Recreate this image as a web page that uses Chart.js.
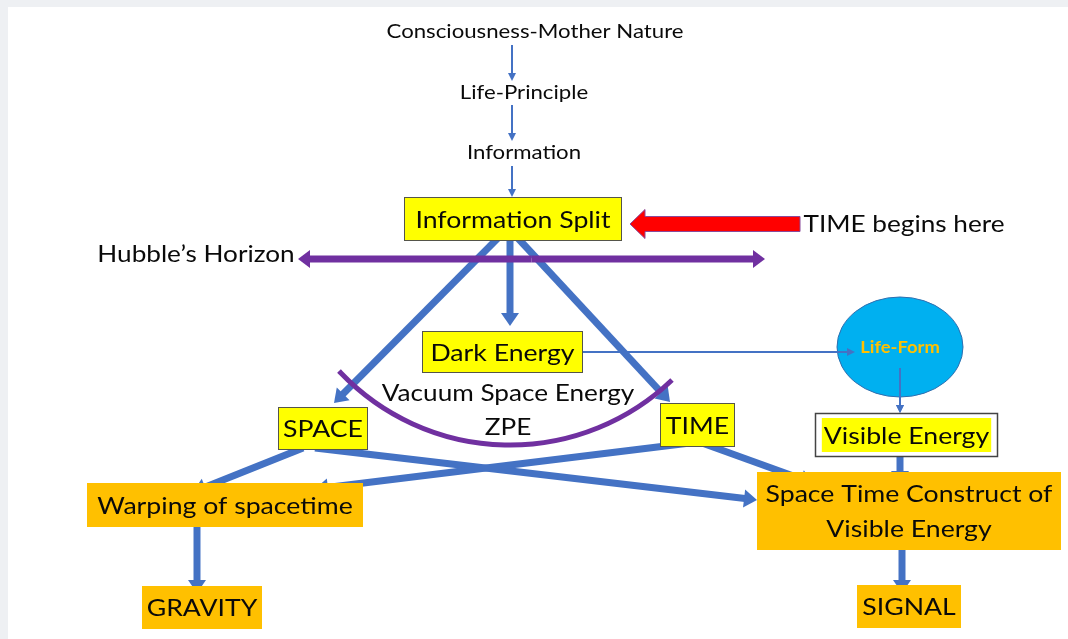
<!DOCTYPE html>
<html>
<head>
<meta charset="utf-8">
<script src="https://cdn.jsdelivr.net/npm/chart.js@4/dist/chart.umd.min.js"></script>
<style>
  html, body { margin: 0; padding: 0; background: #eef0f3; }
  canvas { display: block; }
</style>
</head>
<body>
<canvas id="diagram" width="1068" height="639"></canvas>
<script>
// Diagram content, in the picture's own coordinate space (x right, y down)
const flowLabels = ['Consciousness-Mother Nature', 'Life-Principle', 'Information'];
const flowX = [535, 524, 524];
const flowY = [32, 93, 153];

const boxLabels = ['Information Split', 'Dark Energy', 'SPACE', 'TIME', 'Visible Energy',
  'Warping of spacetime', 'Space Time Construct of\nVisible Energy', 'GRAVITY', 'SIGNAL'];
const boxLeft = [404, 422, 278, 660, 815, 87, 757, 142, 857];
const boxTop = [197, 331, 407, 403, 413, 483, 472, 586, 585];
const boxRight = [622, 583, 368, 735, 998, 363, 1061, 262, 961];
const boxBottom = [241, 373, 450, 447, 457, 527, 550, 629, 628];
const boxKind = ['yellow', 'yellow', 'yellow', 'yellow', 'framed', 'orange', 'orange', 'orange', 'orange'];

const freeLabels = ['TIME begins here', 'Hubble\u2019s Horizon', 'Vacuum Space Energy', 'ZPE'];
const freeX = [904, 196, 508, 508];
const freeY = [224, 254, 393, 427];

const lifeForm = { label: 'Life-Form', x: 900, y: 347, rx: 63, ry: 50 };

// connectors: [x1, y1, x2, y2]
const thinArrows = [[512, 45, 512, 81], [512, 105, 512, 141], [512, 166, 512, 197], [583, 352, 855, 352], [900, 368, 900, 413]];
const thickArrows = [
  [502, 234, 334, 403], [514, 234, 670, 402], [510, 234, 510, 326],
  [303, 448, 193, 492], [315, 448, 757, 500], [690, 443, 315, 489], [702, 443, 813, 483],
  [900, 452, 900, 484], [902, 540, 902, 593], [197, 520, 197, 593]
];
const horizon = [298, 259, 765, 259];
const timeArrow = [800, 224, 630, 224];
const zpeArc = [[339, 371], [505, 445], [672, 380]];

const BLUE = '#4472c4';
const PURPLE = '#7030a0';
const INK = '#0a0a0a';
const FONT = 'Lato, "Open Sans", sans-serif';
const STRETCH = 1.11;

function arrowHead(ctx, x1, y1, x2, y2, len, half, color) {
  const a = Math.atan2(y2 - y1, x2 - x1);
  ctx.fillStyle = color;
  ctx.beginPath();
  ctx.moveTo(x2, y2);
  ctx.lineTo(x2 - len * Math.cos(a) + half * Math.sin(a), y2 - len * Math.sin(a) - half * Math.cos(a));
  ctx.lineTo(x2 - len * Math.cos(a) - half * Math.sin(a), y2 - len * Math.sin(a) + half * Math.cos(a));
  ctx.closePath();
  ctx.fill();
}

function arrow(ctx, seg, width, len, half, color) {
  const [x1, y1, x2, y2] = seg;
  const a = Math.atan2(y2 - y1, x2 - x1);
  ctx.strokeStyle = color;
  ctx.lineWidth = width;
  ctx.lineCap = 'butt';
  ctx.beginPath();
  ctx.moveTo(x1, y1);
  ctx.lineTo(x2 - (len - 1) * Math.cos(a), y2 - (len - 1) * Math.sin(a));
  ctx.stroke();
  arrowHead(ctx, x1, y1, x2, y2, len, half, color);
}

// Calibri-ish look: Lato drawn slightly wider
function wideText(ctx, text, x, y, stretch = STRETCH) {
  ctx.save();
  ctx.translate(x, y);
  ctx.scale(stretch, 1);
  ctx.fillText(text, 0, 0);
  ctx.restore();
}

const diagramPlugin = {
  id: 'diagram',
  afterDraw(chart) {
    const ctx = chart.ctx;
    const sx = chart.scales.x, sy = chart.scales.y;
    const X = v => sx.getPixelForValue(v);
    const Y = v => sy.getPixelForValue(v);
    const P = s => s.map((v, i) => (i % 2 ? Y(v) : X(v)));
    ctx.save();

    // page
    ctx.fillStyle = '#ffffff';
    ctx.fillRect(X(8), Y(7), X(1068) - X(8), Y(639) - Y(7));

    // thin flow arrows
    thinArrows.forEach(s => arrow(ctx, P(s), 2, 8, 4, BLUE));

    // thick arrows
    thickArrows.forEach(s => arrow(ctx, P(s), 7, 13, 9, BLUE));

    // boxes
    ctx.textAlign = 'center';
    ctx.textBaseline = 'middle';
    boxLabels.forEach((label, i) => {
      const l = X(boxLeft[i]), t = Y(boxTop[i]);
      const w = X(boxRight[i]) - l, h = Y(boxBottom[i]) - t;
      const kind = boxKind[i];
      ctx.fillStyle = kind === 'orange' ? '#ffc000' : kind === 'yellow' ? '#ffff00' : '#ffffff';
      ctx.fillRect(l, t, w, h);
      if (kind !== 'orange') {
        ctx.strokeStyle = kind === 'framed' ? '#444444' : '#55554a';
        ctx.lineWidth = kind === 'framed' ? 1.5 : 1;
        ctx.strokeRect(l + 0.5, t + 0.5, w - 1, h - 1);
      }
      const lines = label.split('\n');
      ctx.font = `24px ${FONT}`;
      const cx = l + w / 2, cy = t + h / 2;
      const lh = 35;
      lines.forEach((ln, k) => {
        const ty = cy + (k - (lines.length - 1) / 2) * lh;
        if (kind === 'framed') {
          const tw = ctx.measureText(ln).width * STRETCH;
          ctx.fillStyle = '#ffff00';
          ctx.fillRect(cx - tw / 2 - 2, ty - 17, tw + 4, 34);
        }
        ctx.fillStyle = INK;
        wideText(ctx, ln, cx, ty + 1);
      });
    });

    // life form
    ctx.beginPath();
    ctx.ellipse(X(lifeForm.x), Y(lifeForm.y), lifeForm.rx, lifeForm.ry, 0, 0, Math.PI * 2);
    ctx.fillStyle = '#00b0f0';
    ctx.fill();
    ctx.strokeStyle = '#2f6fb0';
    ctx.lineWidth = 1;
    ctx.stroke();
    ctx.fillStyle = '#ffc000';
    ctx.font = `bold 17px ${FONT}`;
    wideText(ctx, lifeForm.label, X(lifeForm.x), Y(lifeForm.y) + 1, 1.08);
    // redraw the thin arrows over the ellipse
    arrow(ctx, P(thinArrows[3]), 2, 8, 4, BLUE);
    arrow(ctx, P(thinArrows[4]), 2, 8, 4, BLUE);

    // flow labels
    ctx.font = `20px ${FONT}`;
    ctx.fillStyle = INK;
    flowLabels.forEach((t, i) => wideText(ctx, t, X(flowX[i]), Y(flowY[i])));

    // free labels
    ctx.font = `24px ${FONT}`;
    freeLabels.forEach((t, i) => wideText(ctx, t, X(freeX[i]), Y(freeY[i]), 1.09));

    // Hubble's horizon double arrow
    const [hx1, hy1, hx2, hy2] = P(horizon);
    const hm = (hx1 + hx2) / 2;
    arrow(ctx, [hm, hy1, hx2, hy2], 7, 12, 9, PURPLE);
    arrow(ctx, [hm, hy1, hx1, hy1], 7, 12, 9, PURPLE);

    // ZPE arc (circle through three points)
    const [[ax, ay], [bx, by], [cx3, cy3]] = zpeArc.map(p => [X(p[0]), Y(p[1])]);
    const d = 2 * (ax * (by - cy3) + bx * (cy3 - ay) + cx3 * (ay - by));
    const ux = ((ax * ax + ay * ay) * (by - cy3) + (bx * bx + by * by) * (cy3 - ay) + (cx3 * cx3 + cy3 * cy3) * (ay - by)) / d;
    const uy = ((ax * ax + ay * ay) * (cx3 - bx) + (bx * bx + by * by) * (ax - cx3) + (cx3 * cx3 + cy3 * cy3) * (bx - ax)) / d;
    const r = Math.hypot(ax - ux, ay - uy);
    ctx.beginPath();
    ctx.arc(ux, uy, r, Math.atan2(cy3 - uy, cx3 - ux), Math.atan2(ay - uy, ax - ux));
    ctx.strokeStyle = PURPLE;
    ctx.lineWidth = 5;
    ctx.stroke();

    // red "time begins" arrow
    const [rx1, ry1, rx2, ry2] = P(timeArrow);
    ctx.fillStyle = '#ff0000';
    ctx.strokeStyle = '#8a4a9a';
    ctx.lineWidth = 1;
    ctx.beginPath();
    ctx.moveTo(rx1, ry1 - 7.5);
    ctx.lineTo(rx2 + 15, ry1 - 7.5);
    ctx.lineTo(rx2 + 15, ry1 - 14.5);
    ctx.lineTo(rx2, ry2);
    ctx.lineTo(rx2 + 15, ry1 + 14.5);
    ctx.lineTo(rx2 + 15, ry1 + 7.5);
    ctx.lineTo(rx1, ry1 + 7.5);
    ctx.closePath();
    ctx.fill();
    ctx.stroke();

    ctx.restore();
  }
};

new Chart(document.getElementById('diagram'), {
  type: 'scatter',
  data: { datasets: [] },
  options: {
    responsive: false,
    animation: false,
    layout: { padding: 0 },
    plugins: { legend: { display: false }, tooltip: { enabled: false } },
    scales: {
      x: { type: 'linear', min: 0, max: 1068, display: false },
      y: { type: 'linear', min: 0, max: 639, reverse: true, display: false }
    }
  },
  plugins: [diagramPlugin]
});
</script>
</body>
</html>
